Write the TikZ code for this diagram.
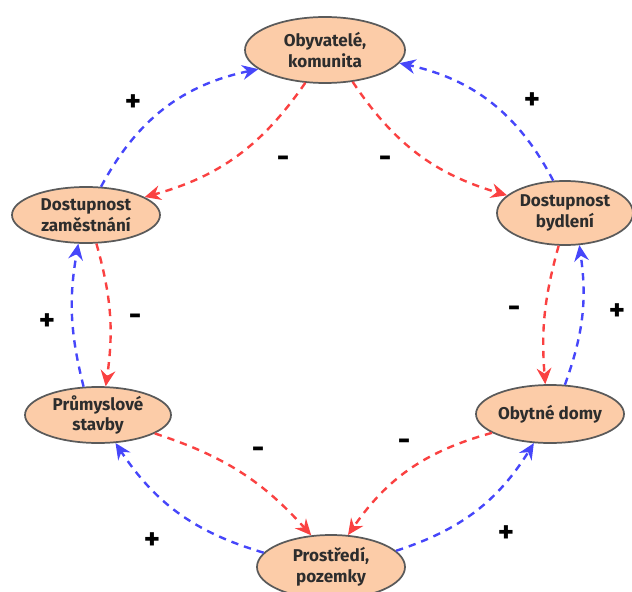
\documentclass[tikz,border=0pt]{standalone}
\usepackage{fontspec}
\setmainfont{Fira Sans}
\usetikzlibrary{shapes.geometric,arrows.meta}
\definecolor{peach}{RGB}{252,204,168}
\definecolor{rim}{RGB}{90,90,90}
\definecolor{txt}{RGB}{45,45,45}
\definecolor{posc}{RGB}{70,70,250}
\definecolor{negc}{RGB}{250,65,65}
\tikzset{
  factor/.style={ellipse,draw=rim,fill=peach,line width=1.3pt,inner sep=0pt,
    text=txt,font=\fontsize{12.8}{15.5}\selectfont\bfseries,align=center},
  link/.style={line width=1.8pt,dash pattern=on 5.5pt off 4.5pt,
    -{Stealth[length=12pt,width=11pt,inset=4pt]}},
  poslink/.style={link,draw=posc},
  neglink/.style={link,draw=negc},
  sign/.style={font=\fontsize{23}{23}\selectfont\bfseries,text=black,inner sep=0pt}
}
\begin{document}
\begin{tikzpicture}[x=0.75pt,y=0.75pt]
\useasboundingbox (0,0) rectangle (632,-592);
\begin{scope}
\clip (0,0) rectangle (632,-592);
\node[factor,minimum width=120pt,minimum height=49.5pt] (ob) at (325,-50) {Obyvatelé,\\komunita};
\node[factor,minimum width=111pt,minimum height=42pt] (dz) at (86,-215) {Dostupnost\\zaměstnání};
\node[factor,minimum width=102pt,minimum height=48pt] (db) at (565,-213) {Dostupnost\\bydlení};
\node[factor,minimum width=109.5pt,minimum height=42pt] (ps) at (98,-415) {Průmyslové\\stavby};
\node[factor,minimum width=111pt,minimum height=43.5pt] (od) at (550,-414) {Obytné domy};
\node[factor,minimum width=111pt,minimum height=48pt] (pp) at (331,-567) {Prostředí,\\pozemky};
\end{scope}

\draw[poslink] (dz.62) to[bend left=25] (ob.196);
\draw[neglink] (ob.239) to[bend left=20] (dz.17);
\draw[neglink] (ob.311) to[bend right=20] (db.163);
\draw[poslink] (db.110) to[bend right=25] (ob.350);

\draw[neglink] (dz.290) to[bend left=12] (ps.75);
\draw[poslink] (ps.117) to[bend left=12] (dz.255);
\draw[neglink] (db.259) to[bend right=10] (od.99);
\draw[poslink] (od.63) to[bend right=14] (db.294);

\draw[neglink] (ps.342) to[bend left=15] (pp.122);
\draw[poslink] (pp.168) to[bend left=20] (ps.302);
\draw[neglink] (od.198) to[bend right=20] (pp.62);
\draw[poslink] (pp.14) to[bend right=20] (od.241);

\node[sign] (s1) at (133,-103) {+};
\node[sign] (s2) at (283,-162) {-};
\node[sign] (s3) at (385,-162) {-};
\node[sign] (s4) at (532,-101) {+};
\node[sign] (s5) at (47,-322) {+};
\node[sign] (s6) at (135,-320) {-};
\node[sign] (s7) at (514,-312) {-};
\node[sign] (s8) at (617,-312) {+};
\node[sign] (s9) at (258,-453) {-};
\node[sign] (s10) at (152,-541) {+};
\node[sign] (s11) at (404,-445) {-};
\node[sign] (s12) at (506,-534) {+};
\end{tikzpicture}
\end{document}
